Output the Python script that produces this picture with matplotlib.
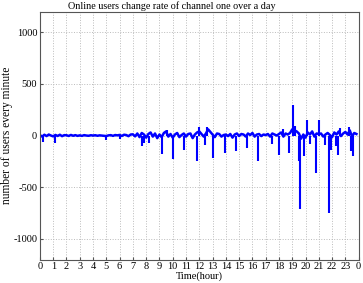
"""
Online users change rate of channel one over a day.
"""
import numpy as np
import matplotlib
matplotlib.use('Agg')
import matplotlib.pyplot as plt

# baseline change rate, one value every 10 minutes (6 per hour)
base = [
    5, -10, 8, -5, 10, 0,
    -8, 6, -4, 8, -6, 4,
    3, -4, 6, -2, 4, -3,
    2, -3, 4, 0, -2, 3,
    0, 3, -2, 2, 0, -3,
    -5, 2, 4, -3, 5, 2,
    6, -4, 8, 5, -6, 10,
    12, -8, 20, -15, 25, 10,
    -20, 15, 30, -10, 20, -25,
    10, -15, 25, 40, -10, 15,
    -20, 10, 25, -15, 5, 20,
    -10, 15, 20, -25, 10, 30,
    40, 15, -10, 20, 60, 35,
    10, -15, 20, 15, -10, 5,
    10, -5, 15, -20, 10, 20,
    -5, 15, 10, -10, 20, 5,
    25, -10, 10, 15, -5, 10,
    5, 15, -10, 20, 10, 0,
    15, 30, -10, 20, 10, 25,
    60, 50, 40, 20, -30, 10,
    -20, 30, 10, 40, -10, 20,
    15, 20, -10, 10, 25, 5,
    -15, 30, 10, 40, -5, 20,
    35, 10, 50, -10, 25, 15,
]

# short one-minute spikes (hour, users per minute)
spike_hour = [0.23, 1.1, 5.0, 6.0, 7.65, 7.8, 8.25, 9.2, 9.6, 10.03, 10.86,
              11.8, 11.97, 12.4, 12.6, 13.0, 13.95, 14.78, 15.56, 16.39,
              17.45, 18.03, 18.3, 18.78, 19.02, 19.2, 19.53, 19.58, 19.89,
              20.1, 20.35, 20.79, 21.0, 21.5, 21.75, 21.9, 22.3, 22.47,
              22.6, 23.3, 23.4, 23.55]
spike_val = [-60, -70, -40, -30, -100, -70, -75, -175, 55, -230, -135,
             -245, 85, -90, 80, -220, -165, -150, -120, -250,
             -80, -190, 60, -165, 300, 90, -250, -710, -200,
             150, -80, -360, 155, -90, -745, -135, -100, -190,
             70, 80, -150, -195]

hours = np.arange(len(base)) / 6.0

xticks = list(range(25))
xticklabels = [str(h % 24) for h in xticks]
yticks = [-1000, -500, 0, 500, 1000]

plt.rcParams['font.family'] = ['Liberation Serif', 'DejaVu Serif']
plt.rcParams['axes.unicode_minus'] = False

fig = plt.figure(figsize=(3.63, 2.83), dpi=100)
ax = fig.add_axes([0.110, 0.083, 0.878, 0.876])

ax.plot(hours, base, color='#0000ff', linewidth=1.8)
ax.vlines(spike_hour, 0, spike_val, color='#0000ff', linewidth=1.5)

ax.set_xlim(0, 24)
ax.set_ylim(-1200, 1200)
ax.set_xticks(xticks)
ax.set_xticklabels(xticklabels)
ax.set_yticks(yticks)
ax.tick_params(direction='in', length=2, labelsize=7.5, pad=2,
               color='#555555')
ax.grid(True, color='#bbbbbb', linestyle=':', linewidth=0.7)
for sp in ax.spines.values():
    sp.set_color('#555555')
    sp.set_linewidth(0.8)

ax.set_title('Online users change rate of channel one over a day',
             fontsize=7.3, pad=2, x=0.414)
ax.set_xlabel('Time(hour)', fontsize=7.5, labelpad=0)
ax.set_ylabel('number of users every minute', fontsize=8.3,
              va='center')
ax.yaxis.set_label_coords(-0.103, 0.5)

fig.savefig('out.png', dpi=100)
